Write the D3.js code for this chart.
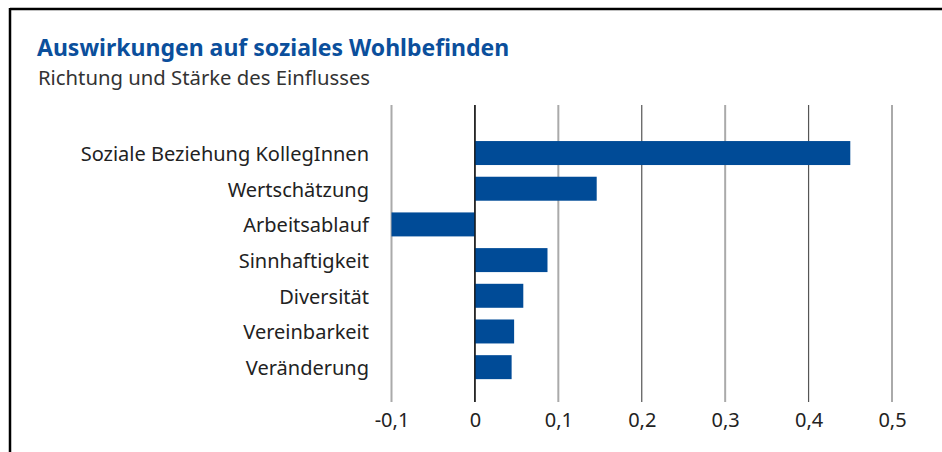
<!DOCTYPE html>
<html><head><meta charset="utf-8">
<script src="https://cdn.jsdelivr.net/npm/d3@7"></script>
<style>
html,body{margin:0;padding:0;background:#fff;}
svg{display:block;font-family:"Noto Sans","Open Sans",sans-serif;}
</style></head>
<body><svg id="c" width="942" height="452"></svg>
<script>
const categories = ["Soziale Beziehung KollegInnen","Wertschätzung","Arbeitsablauf","Sinnhaftigkeit","Diversität","Vereinbarkeit","Veränderung"];
const values = [0.45, 0.146, -0.1, 0.087, 0.058, 0.047, 0.044];
const tickValues = [-0.1, 0, 0.1, 0.2, 0.3, 0.4, 0.5];
const tickLabels = ["-0,1","0","0,1","0,2","0,3","0,4","0,5"];
const title = "Auswirkungen auf soziales Wohlbefinden";
const subtitle = "Richtung und Stärke des Einflusses";

const svg = d3.select("#c");
// frame
svg.append("line").attr("x1",10).attr("x2",942).attr("y1",9).attr("y2",9).attr("stroke","#000").attr("stroke-width",2.5);
svg.append("line").attr("x1",10).attr("x2",10).attr("y1",8).attr("y2",452).attr("stroke","#000").attr("stroke-width",2.5);

svg.append("text").attr("x",37).attr("y",56).attr("fill","#0b4f9c").attr("font-weight","bold").attr("font-size",23).text(title);
svg.append("text").attr("x",38).attr("y",85).attr("fill","#333").attr("font-size",20.3).text(subtitle);

const x = d3.scaleLinear().domain([-0.1,0.5]).range([391.5,892]);
const y = d3.scaleBand().domain(categories).range([135.2,385]).paddingInner(0.328).paddingOuter(0.164);

const grid = svg.append("g");
grid.selectAll("line").data(tickValues).join("line")
  .attr("x1",d=>x(d)).attr("x2",d=>x(d)).attr("y1",105).attr("y2",402)
  .attr("stroke",(d,i)=> i%2===0 ? "#aaa" : (d===0 ? "#111" : "#555"))
  .attr("stroke-width",(d,i)=> i%2===0 ? 2 : 1.2);

svg.append("g").selectAll("rect").data(values).join("rect")
  .attr("x",d=>x(Math.min(0,d))).attr("width",d=>Math.abs(x(d)-x(0)))
  .attr("y",(d,i)=>y(categories[i])).attr("height",y.bandwidth())
  .attr("fill","#004b97");

// redraw zero line on top of bars
svg.append("line").attr("x1",x(0)).attr("x2",x(0)).attr("y1",105).attr("y2",402).attr("stroke","#111").attr("stroke-width",1.2);

const yAxis = d3.axisLeft(y).tickSize(0).tickPadding(0);
const ya = svg.append("g").attr("transform","translate(369,0)").call(yAxis);
ya.select(".domain").remove();
ya.selectAll("text").attr("font-size",20).attr("fill","#222").attr("font-family","'Noto Sans','Open Sans',sans-serif").attr("dy","0.4em");

const xAxis = d3.axisBottom(x).tickValues(tickValues).tickFormat((d,i)=>tickLabels[i]).tickSize(0).tickPadding(0);
const xa = svg.append("g").attr("transform","translate(0,427)").call(xAxis);
xa.select(".domain").remove();
xa.selectAll("text").attr("font-size",20).attr("fill","#222").attr("font-family","'Noto Sans','Open Sans',sans-serif").attr("dy",0).attr("y",0);
</script></body></html>
